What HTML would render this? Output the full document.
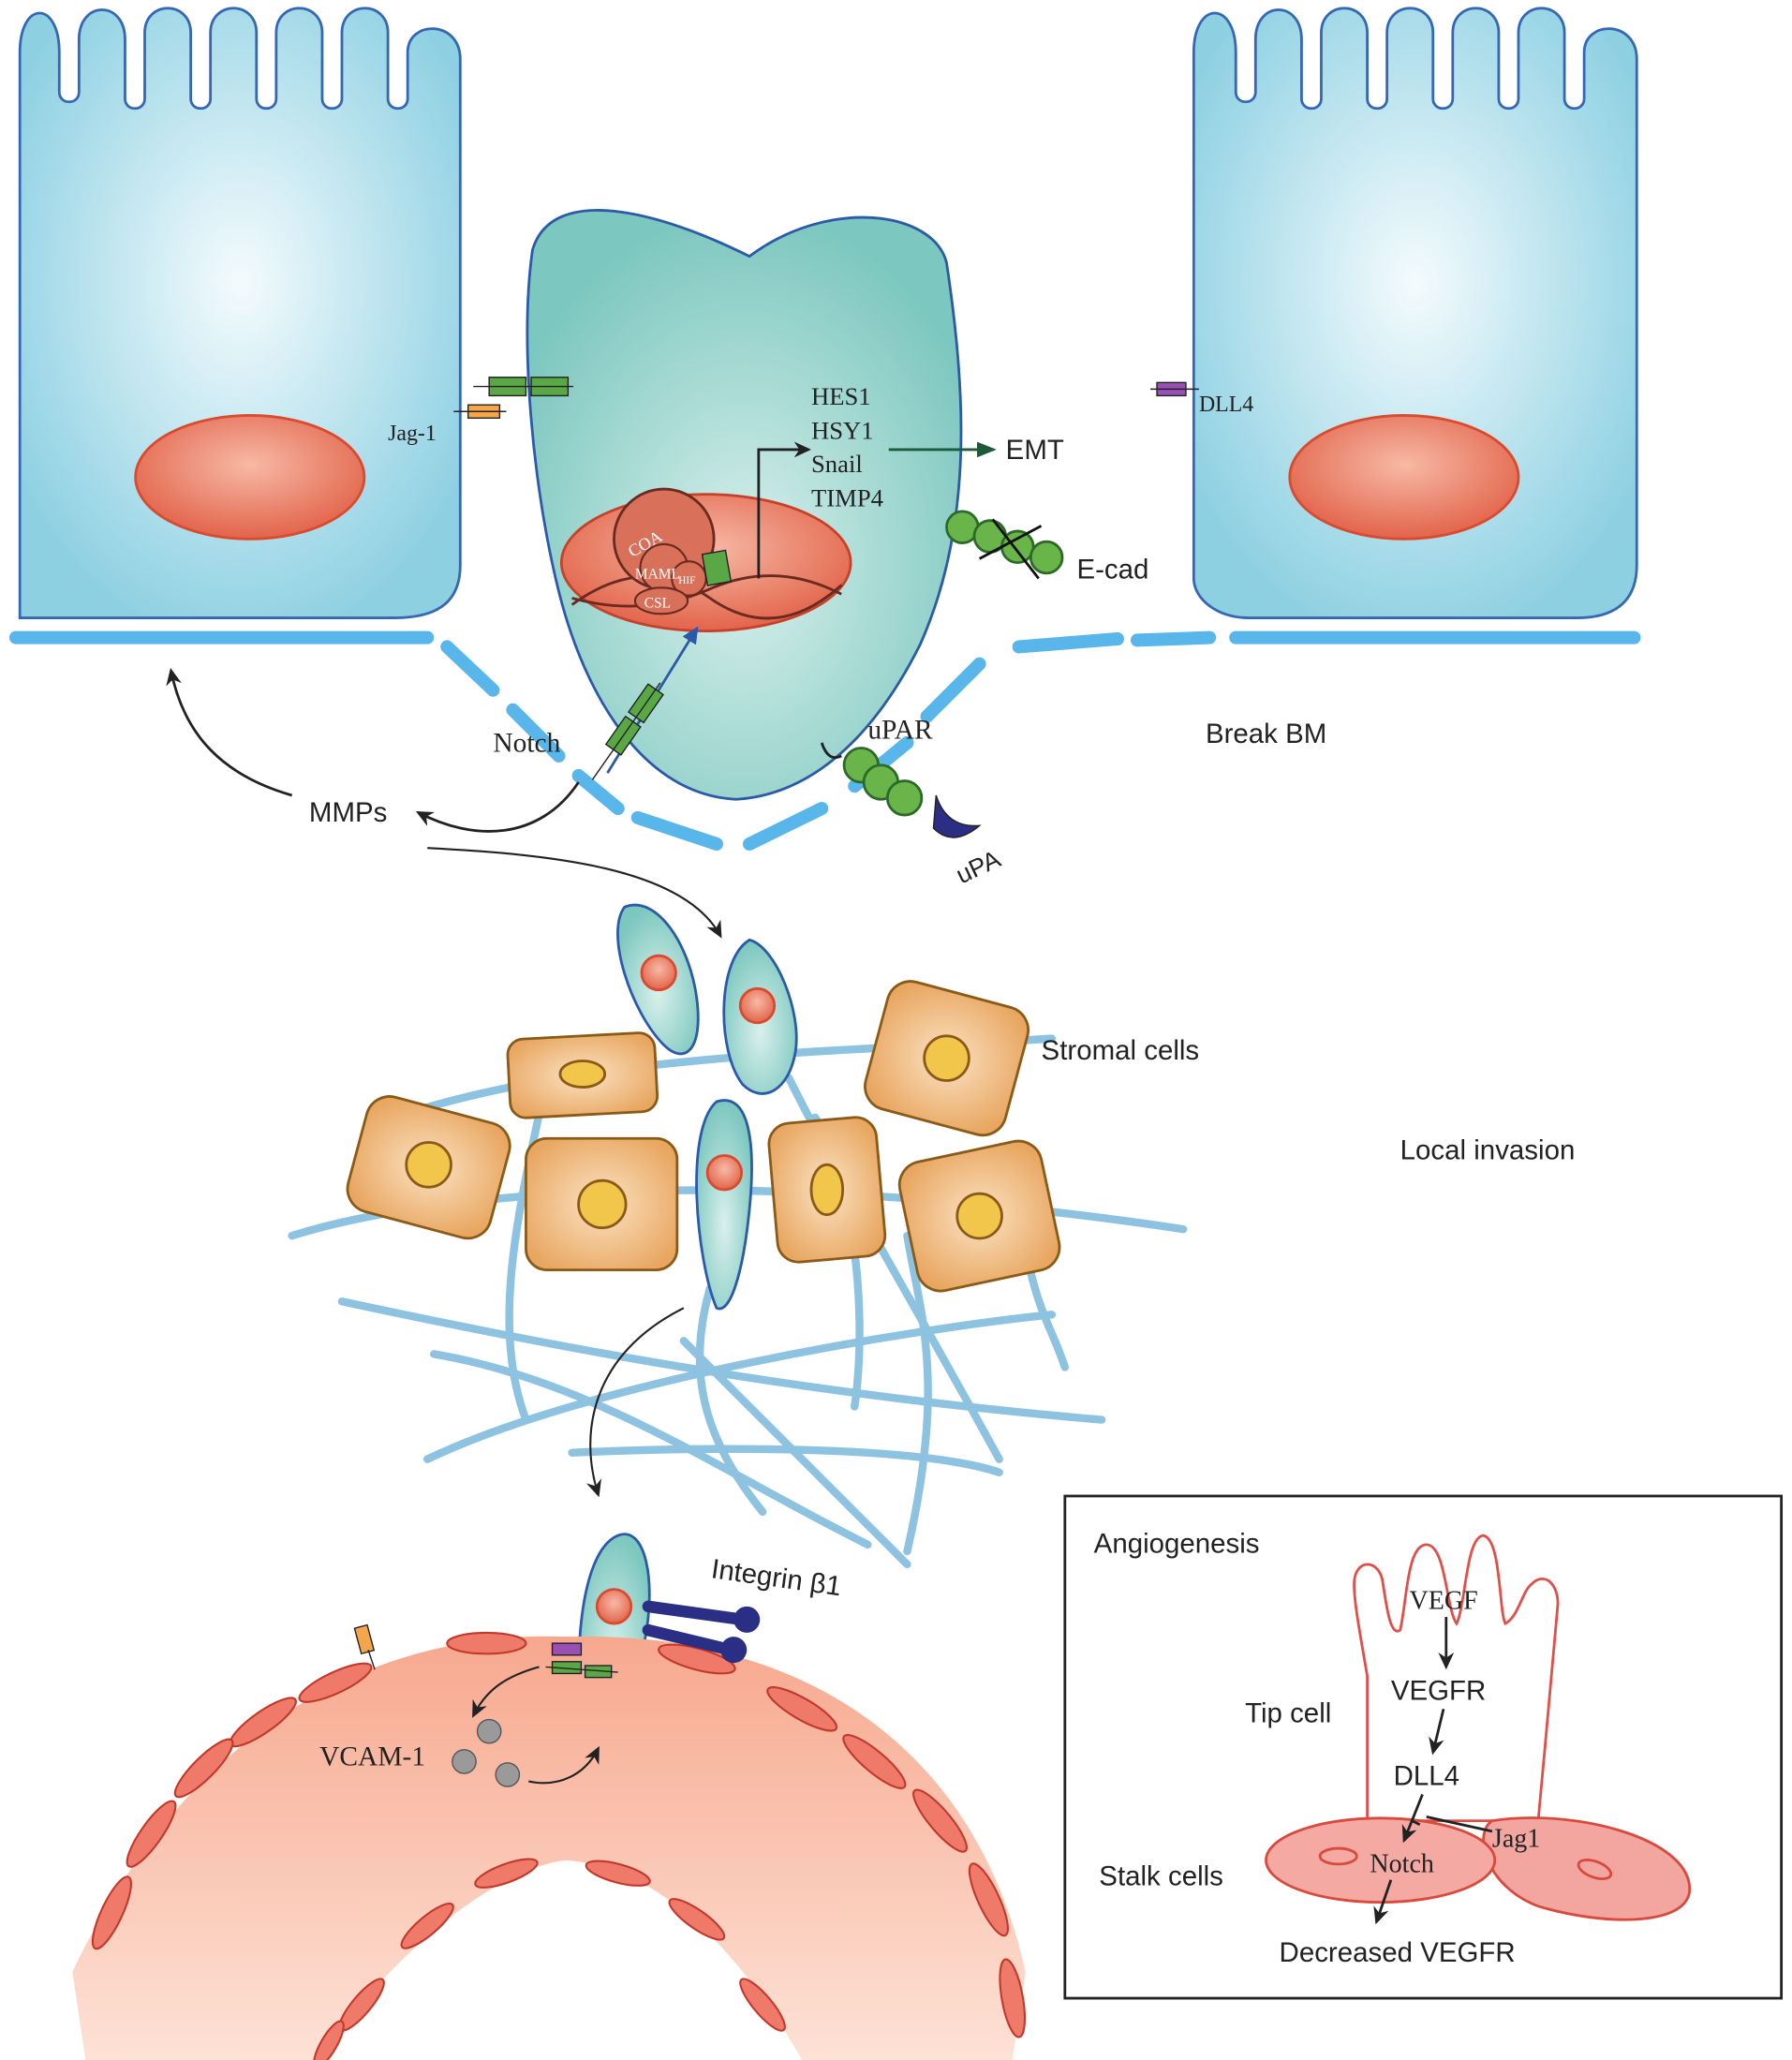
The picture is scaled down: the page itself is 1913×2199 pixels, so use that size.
<!DOCTYPE html>
<html><head><meta charset="utf-8"><style>html,body{margin:0;padding:0;background:#fff}svg{display:block}</style></head><body>
<svg width="1913" height="2199" viewBox="0 0 1363 1567" xmlns="http://www.w3.org/2000/svg" font-family="Liberation Sans, sans-serif">
<defs>
<radialGradient id="bc" cx="0.5" cy="0.45" r="0.6"><stop offset="0" stop-color="#f4fbfd"/><stop offset="1" stop-color="#8dd0e2"/></radialGradient>
<radialGradient id="nu" cx="0.5" cy="0.4" r="0.6"><stop offset="0" stop-color="#f7b9a6"/><stop offset="1" stop-color="#e2644a"/></radialGradient>
<radialGradient id="tc" cx="0.5" cy="0.6" r="0.6"><stop offset="0" stop-color="#d9f0ec"/><stop offset="1" stop-color="#7cc7bf"/></radialGradient>
<radialGradient id="st" cx="0.5" cy="0.5" r="0.6"><stop offset="0" stop-color="#fbe2c2"/><stop offset="1" stop-color="#e8a660"/></radialGradient>
<linearGradient id="ve" x1="0" y1="0" x2="0" y2="1"><stop offset="0" stop-color="#f7a88e"/><stop offset="1" stop-color="#fde2d6"/></linearGradient>
<marker id="ah" markerUnits="userSpaceOnUse" markerWidth="14" markerHeight="14" refX="11" refY="7" orient="auto"><path d="M0,1 L13,7 L0,13 L4,7 z" fill="#222"/></marker>
<marker id="ab" markerUnits="userSpaceOnUse" markerWidth="14" markerHeight="14" refX="11" refY="7" orient="auto"><path d="M0,1 L13,7 L0,13 z" fill="#2a5aa8"/></marker>
<marker id="ag" markerUnits="userSpaceOnUse" markerWidth="16" markerHeight="14" refX="13" refY="7" orient="auto"><path d="M0,1 L15,7 L0,13 z" fill="#1c5a3a"/></marker>
</defs>
<rect width="1363" height="1567" fill="#fff"/>
<path d="M15,470 L15,40 C15,0 45,0 45,40 L45,70 C45,80 60,80 60,70 L60,30 C60,0 95,0 95,30 L95,75 C95,85 110,85 110,75 L110,25 C110,0 145,0 145,25 L145,75 C145,85 160,85 160,75 L160,25 C160,0 195,0 195,25 L195,75 C195,85 210,85 210,75 L210,25 C210,0 245,0 245,25 L245,75 C245,85 260,85 260,75 L260,25 C260,0 295,0 295,25 L295,75 C295,85 310,85 310,75 L310,40 C310,15 350,15 350,45 L350,430 C350,460 330,470 300,470 Z" fill="url(#bc)" stroke="#3567b4" stroke-width="2"/>
<ellipse cx="190" cy="363" rx="87" ry="47" fill="url(#nu)" stroke="#d94a2e" stroke-width="2"/>
<path d="M908,440 L908,40 C908,0 940,0 940,40 L940,70 C940,80 955,80 955,70 L955,30 C955,0 990,0 990,30 L990,75 C990,85 1005,85 1005,75 L1005,25 C1005,0 1040,0 1040,25 L1040,75 C1040,85 1055,85 1055,75 L1055,25 C1055,0 1090,0 1090,25 L1090,75 C1090,85 1105,85 1105,75 L1105,25 C1105,0 1140,0 1140,25 L1140,75 C1140,85 1155,85 1155,75 L1155,25 C1155,0 1190,0 1190,25 L1190,75 C1190,85 1205,85 1205,75 L1205,40 C1205,15 1245,15 1245,45 L1245,430 C1245,460 1225,470 1200,470 L950,470 C925,470 908,455 908,440 Z" fill="url(#bc)" stroke="#3567b4" stroke-width="2"/>
<ellipse cx="1068" cy="363" rx="87" ry="47" fill="url(#nu)" stroke="#d94a2e" stroke-width="2"/>
<g stroke="#58b6ea" stroke-width="10" stroke-linecap="round" fill="none">
<line x1="12" y1="485" x2="325" y2="485"/>
<line x1="340" y1="492" x2="375" y2="525"/><line x1="390" y1="540" x2="425" y2="575"/><line x1="440" y1="590" x2="470" y2="615"/><line x1="485" y1="622" x2="545" y2="642"/>
<line x1="570" y1="642" x2="625" y2="615"/><line x1="650" y1="598" x2="690" y2="565"/><line x1="705" y1="545" x2="745" y2="505"/><line x1="775" y1="492" x2="850" y2="486"/><line x1="865" y1="487" x2="920" y2="485"/><line x1="940" y1="485" x2="1243" y2="485"/>
</g>
<path d="M405,190 C420,140 500,160 570,195 C630,150 710,160 720,200 C735,300 740,400 700,490 C660,570 610,605 560,608 C490,605 445,530 425,450 C405,370 395,260 405,190 Z" fill="url(#tc)" stroke="#2a5aa8" stroke-width="2"/>
<ellipse cx="537" cy="428" rx="110" ry="52" fill="url(#nu)" stroke="#c6402a" stroke-width="2"/>
<path d="M435,460 Q490,420 540,455 T640,445" stroke="#6a2a20" stroke-width="2" fill="none"/>
<path d="M435,455 Q490,470 540,448 T640,452" stroke="#6a2a20" stroke-width="2" fill="none"/>
<circle cx="505" cy="410" r="38" fill="#d9705a" stroke="#6a2a20" stroke-width="2"/>
<circle cx="505" cy="432" r="18" fill="#d9705a" stroke="#6a2a20" stroke-width="1.5"/>
<circle cx="524" cy="440" r="13" fill="#d9705a" stroke="#6a2a20" stroke-width="1.5"/>
<ellipse cx="503" cy="457" rx="20" ry="10" fill="#d9705a" stroke="#6a2a20" stroke-width="1.5"/>
<text x="476" y="418" font-family="Liberation Serif, serif" font-size="13" fill="#fff" transform="rotate(-30 490 412)">COA</text>
<text x="483" y="440" font-family="Liberation Serif, serif" font-size="11" fill="#fff">MAML</text>
<text x="516" y="444" font-family="Liberation Serif, serif" font-size="8" fill="#fff">HIF</text>
<text x="490" y="462" font-family="Liberation Serif, serif" font-size="11" fill="#fff">CSL</text>
<rect x="536" y="420" width="18" height="24" fill="#5aa845" stroke="#222" transform="rotate(-10 545 432)"/>
<path d="M577,440 L577,342 L615,342" stroke="#222" stroke-width="2" fill="none" marker-end="url(#ah)"/>
<g font-family="Liberation Serif, serif" font-size="19" fill="#222"><text x="617" y="308">HES1</text><text x="617" y="334">HSY1</text><text x="617" y="359">Snail</text><text x="617" y="385">TIMP4</text></g>
<line x1="676" y1="342" x2="756" y2="342" stroke="#1c5a3a" stroke-width="2" marker-end="url(#ag)"/>
<text x="765" y="349" font-size="21" fill="#222">EMT</text>
<line x1="462" y1="588" x2="530" y2="478" stroke="#2a5aa8" stroke-width="2" marker-end="url(#ab)"/>
<g transform="rotate(-55 480 565)"><rect x="468" y="550" width="26" height="14" fill="#5aa845" stroke="#222"/><rect x="498" y="550" width="26" height="14" fill="#5aa845" stroke="#222"/><line x1="440" y1="557" x2="530" y2="557" stroke="#222"/></g>
<text x="375" y="572" font-family="Liberation Serif, serif" font-size="21" fill="#222">Notch</text>
<rect x="372" y="287" width="28" height="14" fill="#5aa845" stroke="#222"/><rect x="404" y="287" width="28" height="14" fill="#5aa845" stroke="#222"/><line x1="360" y1="294" x2="436" y2="294" stroke="#222"/>
<rect x="356" y="308" width="24" height="10" fill="#f5a54a" stroke="#222"/><line x1="345" y1="313" x2="385" y2="313" stroke="#222"/>
<text x="295" y="335" font-family="Liberation Serif, serif" font-size="17" fill="#222">Jag-1</text>
<rect x="880" y="291" width="22" height="10" fill="#9a4fb5" stroke="#222"/><line x1="875" y1="296" x2="912" y2="296" stroke="#222"/>
<text x="912" y="313" font-family="Liberation Serif, serif" font-size="17" fill="#222">DLL4</text>
<g fill="#6ab54a" stroke="#2d6a2a" stroke-width="2"><circle cx="732" cy="401" r="12"/><circle cx="753" cy="408" r="12"/><circle cx="774" cy="416" r="12"/><circle cx="796" cy="424" r="12"/></g>
<line x1="755" y1="395" x2="790" y2="440" stroke="#111" stroke-width="2"/><line x1="745" y1="425" x2="792" y2="400" stroke="#111" stroke-width="2"/>
<text x="819" y="440" font-size="21" fill="#222">E-cad</text>
<path d="M625,565 Q630,580 640,575" stroke="#222" stroke-width="2" fill="none"/>
<g fill="#6ab54a" stroke="#2d6a2a" stroke-width="2"><circle cx="655" cy="582" r="13"/><circle cx="670" cy="595" r="13"/><circle cx="688" cy="607" r="13"/></g>
<path d="M712,605 Q720,630 745,628 Q725,645 710,630 Z" fill="#2a2f85" stroke="#222"/>
<text x="660" y="562" font-family="Liberation Serif, serif" font-size="21" fill="#222">uPAR</text>
<text x="725" y="665" font-size="19" fill="#222" transform="rotate(-25 745 655)">uPA</text>
<text x="917" y="565" font-size="21" fill="#222">Break BM</text>
<text x="235" y="625" font-size="21" fill="#222">MMPs</text>
<path d="M222,605 C170,590 140,560 130,510" stroke="#222" stroke-width="2" fill="none" marker-end="url(#ah)"/>
<path d="M440,595 C410,640 360,640 318,618" stroke="#222" stroke-width="2" fill="none" marker-end="url(#ah)"/>
<path d="M325,645 C420,650 520,660 548,712" stroke="#222" stroke-width="1.5" fill="none" marker-end="url(#ah)"/>
<g stroke="#8dc3e0" stroke-width="6" fill="none" stroke-linecap="round">
<path d="M222,940 C350,900 600,890 900,935"/><path d="M325,1110 C450,1050 700,1010 800,1000"/><path d="M260,990 C400,1020 600,1060 838,1080"/>
<path d="M435,1105 C550,1100 700,1100 760,1120"/><path d="M300,850 C450,800 650,800 800,790"/><path d="M330,1030 C450,1050 550,1120 660,1175"/>
<path d="M600,820 C640,900 700,1000 760,1110"/><path d="M420,800 C400,900 370,1000 400,1080"/><path d="M540,980 C520,1050 540,1100 580,1150"/>
<path d="M690,940 C700,1000 720,1050 690,1180"/><path d="M520,1020 C600,1100 650,1150 690,1190"/><path d="M780,950 C790,1000 800,1010 810,1040"/><path d="M620,850 C650,900 660,1000 650,1070"/>
</g>
<g fill="url(#st)" stroke="#8a5a18" stroke-width="2">
<rect x="387" y="788" width="112" height="60" rx="12" transform="rotate(-3 443 818)"/><ellipse cx="443" cy="817" rx="17" ry="10" fill="#f2c64a"/>
<rect x="665" y="755" width="110" height="100" rx="18" transform="rotate(15 720 805)"/><circle cx="720" cy="805" r="17" fill="#f2c64a"/>
<rect x="270" y="843" width="112" height="90" rx="18" transform="rotate(15 326 888)"/><circle cx="326" cy="886" r="17" fill="#f2c64a"/>
<rect x="400" y="866" width="115" height="100" rx="16"/><circle cx="458" cy="916" r="18" fill="#f2c64a"/>
<rect x="588" y="852" width="82" height="106" rx="16" transform="rotate(-5 629 905)"/><ellipse cx="629" cy="905" rx="12" ry="19" fill="#f2c64a"/>
<rect x="690" y="875" width="110" height="100" rx="18" transform="rotate(-12 745 925)"/><circle cx="745" cy="925" r="17" fill="#f2c64a"/>
</g>
<text x="792" y="806" font-size="21" fill="#222">Stromal cells</text>
<text x="1065" y="882" font-size="21" fill="#222">Local invasion</text>
<g fill="url(#tc)" stroke="#2a5aa8" stroke-width="2">
<path d="M475,690 C500,680 525,720 530,760 C535,800 520,810 505,795 C480,770 460,710 475,690 Z"/>
<path d="M570,715 C590,720 610,770 605,800 C600,830 580,840 565,825 C545,800 545,730 570,715 Z"/>
<path d="M545,838 C570,830 575,870 570,920 C565,970 555,1000 545,995 C530,960 520,860 545,838 Z"/>
<path d="M470,1168 C490,1160 500,1200 490,1250 C480,1300 460,1335 445,1320 C435,1270 440,1180 470,1168 Z"/>
<path d="M160,1390 C190,1370 225,1380 222,1410 C215,1440 195,1470 160,1485 C150,1470 145,1410 160,1390 Z"/>
<path d="M510,1395 C560,1385 620,1395 648,1420 C650,1445 600,1450 560,1440 C530,1430 505,1410 510,1395 Z"/>
</g>
<g fill="url(#nu)" stroke="#d94a2e" stroke-width="2">
<circle cx="501" cy="740" r="13"/><circle cx="576" cy="765" r="13"/><circle cx="551" cy="892" r="13"/><circle cx="467" cy="1222" r="13"/><circle cx="192" cy="1424" r="13"/><circle cx="585" cy="1423" r="13"/>
</g>
<path d="M520,995 C450,1030 440,1090 455,1137" stroke="#222" stroke-width="1.5" fill="none" marker-end="url(#ah)"/>
<path d="M55,1500 C150,1300 300,1240 430,1245 C600,1240 740,1320 780,1500 L770,1567 L65,1567 Z" fill="url(#ve)"/>
<path d="M240,1567 C320,1460 390,1420 430,1415 C500,1420 560,1480 610,1567 Z" fill="#fff"/>
<g fill="#f07a6a" stroke="#c0392b" stroke-width="1.5">
<ellipse cx="255" cy="1280" rx="30" ry="8" transform="rotate(-25 255 1280)"/><ellipse cx="370" cy="1250" rx="30" ry="8"/><ellipse cx="530" cy="1262" rx="30" ry="8" transform="rotate(15 530 1262)"/><ellipse cx="610" cy="1300" rx="30" ry="8" transform="rotate(30 610 1300)"/>
<ellipse cx="665" cy="1340" rx="30" ry="8" transform="rotate(40 665 1340)"/><ellipse cx="715" cy="1385" rx="30" ry="8" transform="rotate(50 715 1385)"/><ellipse cx="752" cy="1445" rx="30" ry="8" transform="rotate(65 752 1445)"/><ellipse cx="770" cy="1520" rx="30" ry="8" transform="rotate(80 770 1520)"/>
<ellipse cx="200" cy="1310" rx="30" ry="8" transform="rotate(-35 200 1310)"/><ellipse cx="155" cy="1345" rx="30" ry="8" transform="rotate(-45 155 1345)"/><ellipse cx="115" cy="1395" rx="30" ry="8" transform="rotate(-55 115 1395)"/><ellipse cx="85" cy="1455" rx="30" ry="8" transform="rotate(-65 85 1455)"/>
<ellipse cx="275" cy="1525" rx="25" ry="7" transform="rotate(-50 275 1525)"/><ellipse cx="325" cy="1465" rx="25" ry="7" transform="rotate(-40 325 1465)"/><ellipse cx="385" cy="1425" rx="25" ry="7" transform="rotate(-20 385 1425)"/><ellipse cx="470" cy="1425" rx="25" ry="7" transform="rotate(15 470 1425)"/><ellipse cx="530" cy="1460" rx="25" ry="7" transform="rotate(35 530 1460)"/><ellipse cx="580" cy="1525" rx="25" ry="7" transform="rotate(50 580 1525)"/>
<ellipse cx="250" cy="1555" rx="20" ry="6" transform="rotate(-60 250 1555)"/>
</g>
<g stroke="#2a2f85" stroke-width="9" stroke-linecap="round"><line x1="493" y1="1222" x2="565" y2="1232"/><line x1="493" y1="1240" x2="555" y2="1255"/></g>
<circle cx="568" cy="1232" r="10" fill="#2a2f85"/><circle cx="558" cy="1255" r="10" fill="#2a2f85"/>
<text x="540" y="1207" font-size="21" fill="#222" transform="rotate(8 590 1205)">Integrin β1</text>
<rect x="420" y="1250" width="22" height="9" fill="#9a4fb5" stroke="#222"/><rect x="420" y="1264" width="22" height="9" fill="#5aa845" stroke="#222"/><rect x="445" y="1267" width="20" height="9" fill="#5aa845" stroke="#222"/><line x1="415" y1="1268" x2="470" y2="1272" stroke="#222"/>
<rect x="272" y="1237" width="10" height="20" fill="#f5a54a" stroke="#222" transform="rotate(-15 277 1247)"/><line x1="280" y1="1255" x2="285" y2="1270" stroke="#222"/>
<text x="243" y="1343" font-family="Liberation Serif, serif" font-size="21" fill="#222">VCAM-1</text>
<g fill="#9a9a9a" stroke="#555"><circle cx="353" cy="1340" r="9"/><circle cx="372" cy="1317" r="9"/><circle cx="386" cy="1350" r="9"/></g>
<path d="M410,1268 C385,1275 370,1285 360,1305" stroke="#222" stroke-width="1.5" fill="none" marker-end="url(#ah)"/>
<path d="M402,1355 C425,1360 445,1350 455,1330" stroke="#222" stroke-width="1.5" fill="none" marker-end="url(#ah)"/>
<rect x="810" y="1138" width="545" height="382" fill="#fff" stroke="#222" stroke-width="2"/>
<text x="832" y="1181" font-size="21" fill="#222">Angiogenesis</text>
<path d="M1040,1385 L1040,1275 C1035,1245 1030,1220 1030,1205 C1030,1185 1050,1185 1052,1205 C1055,1225 1058,1245 1065,1240 C1070,1220 1070,1175 1085,1175 C1100,1175 1100,1225 1108,1235 C1115,1220 1115,1170 1128,1168 C1142,1170 1140,1225 1145,1235 C1155,1230 1158,1210 1165,1205 C1175,1195 1185,1205 1185,1220 C1180,1280 1175,1330 1170,1385 Z" fill="#fff" stroke="#e0504a" stroke-width="2"/>
<path d="M1135,1385 C1200,1375 1290,1400 1285,1440 C1280,1465 1220,1465 1170,1450 C1130,1435 1120,1395 1135,1385 Z" fill="#f3a6a0" stroke="#d94a3e" stroke-width="2"/>
<ellipse cx="1050" cy="1415" rx="87" ry="32" fill="#f4aaa3" stroke="#d94a3e" stroke-width="2"/>
<ellipse cx="1018" cy="1412" rx="14" ry="6" fill="none" stroke="#d94a3e" stroke-width="2"/><ellipse cx="1213" cy="1422" rx="13" ry="6" fill="none" stroke="#d94a3e" stroke-width="2" transform="rotate(20 1213 1422)"/>
<text x="1072" y="1224" font-family="Liberation Serif, serif" font-size="20" fill="#222">VEGF</text>
<line x1="1100" y1="1230" x2="1100" y2="1268" stroke="#222" stroke-width="2" marker-end="url(#ah)"/>
<text x="1058" y="1293" font-size="21" fill="#222">VEGFR</text>
<line x1="1098" y1="1300" x2="1090" y2="1333" stroke="#222" stroke-width="2" marker-end="url(#ah)"/>
<text x="1060" y="1358" font-size="21" fill="#222">DLL4</text>
<line x1="1082" y1="1365" x2="1068" y2="1400" stroke="#222" stroke-width="2" marker-end="url(#ah)"/>
<line x1="1074" y1="1385" x2="1080" y2="1388" stroke="#222" stroke-width="2"/>
<line x1="1085" y1="1382" x2="1135" y2="1393" stroke="#222" stroke-width="2"/>
<text x="1135" y="1405" font-family="Liberation Serif, serif" font-size="20" fill="#222">Jag1</text>
<text x="1042" y="1424" font-family="Liberation Serif, serif" font-size="20" fill="#222">Notch</text>
<line x1="1058" y1="1430" x2="1047" y2="1462" stroke="#222" stroke-width="2" marker-end="url(#ah)"/>
<text x="947" y="1310" font-size="21" fill="#222">Tip cell</text>
<text x="836" y="1434" font-size="21" fill="#222">Stalk cells</text>
<text x="973" y="1492" font-size="21" fill="#222">Decreased VEGFR</text>
</svg>
</body></html>
